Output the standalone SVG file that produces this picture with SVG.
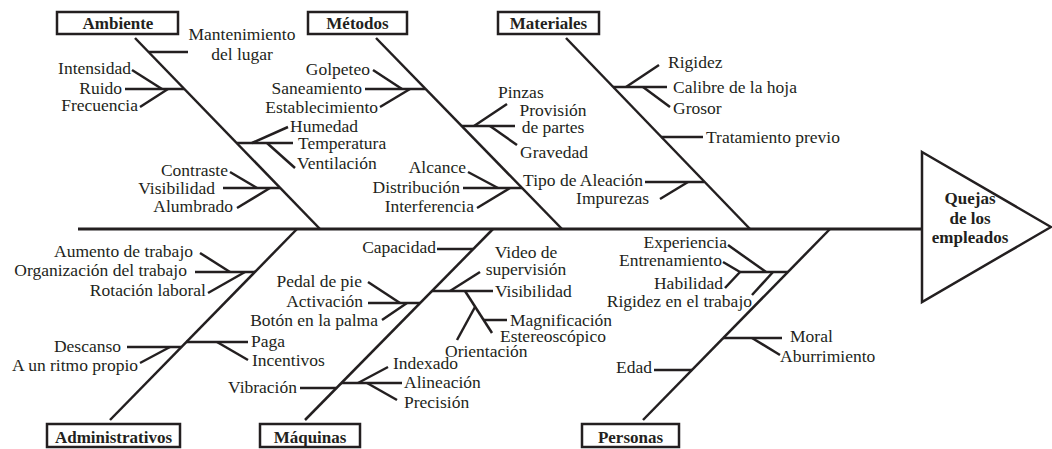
<svg xmlns="http://www.w3.org/2000/svg" width="1052" height="449" viewBox="0 0 1052 449">
<style>
.l{stroke:#231f20;stroke-width:2.5;fill:none;stroke-linecap:butt}
.sp{stroke:#231f20;stroke-width:3;fill:none}
.bx{fill:#fff;stroke:#231f20;stroke-width:2.5}
text{font-family:'Liberation Serif','DejaVu Serif',serif;font-size:17.5px;fill:#231f20}
.b{font-weight:bold;font-size:17px;text-anchor:middle}
.e{text-anchor:end}
.m{text-anchor:middle}
</style>
<rect width="1052" height="449" fill="#fff"/>
<g id="connectors">
<line class="sp" x1="78" y1="229" x2="922" y2="229"/>
<line class="l" x1="135" y1="38" x2="320" y2="229"/>
<line class="l" x1="149" y1="52" x2="188" y2="52"/>
<line class="l" x1="125" y1="89" x2="184" y2="89"/>
<line class="l" x1="132" y1="70" x2="162" y2="89"/>
<line class="l" x1="140" y1="107" x2="168" y2="89"/>
<line class="l" x1="237" y1="143" x2="293" y2="143"/>
<line class="l" x1="252" y1="143" x2="288" y2="127"/>
<line class="l" x1="267" y1="143" x2="295" y2="168"/>
<line class="l" x1="223" y1="188" x2="280" y2="188"/>
<line class="l" x1="230" y1="172" x2="257" y2="188"/>
<line class="l" x1="237" y1="208" x2="270" y2="188"/>
<line class="l" x1="376" y1="38" x2="562" y2="229"/>
<line class="l" x1="365" y1="89" x2="425" y2="89"/>
<line class="l" x1="373" y1="70" x2="402" y2="89"/>
<line class="l" x1="380" y1="107" x2="410" y2="89"/>
<line class="l" x1="462" y1="126" x2="515" y2="126"/>
<line class="l" x1="474" y1="126" x2="507" y2="104"/>
<line class="l" x1="490" y1="126" x2="517" y2="145"/>
<line class="l" x1="463" y1="188" x2="522" y2="188"/>
<line class="l" x1="468" y1="172" x2="498" y2="188"/>
<line class="l" x1="477" y1="208" x2="510" y2="188"/>
<line class="l" x1="566" y1="38" x2="750" y2="229"/>
<line class="l" x1="613" y1="87" x2="667" y2="87"/>
<line class="l" x1="626" y1="87" x2="659" y2="65"/>
<line class="l" x1="643" y1="87" x2="670" y2="107"/>
<line class="l" x1="661" y1="137" x2="703" y2="137"/>
<line class="l" x1="645" y1="182" x2="704" y2="182"/>
<line class="l" x1="660" y1="199" x2="688" y2="182"/>
<line class="l" x1="297" y1="229" x2="110" y2="420"/>
<line class="l" x1="195" y1="272" x2="255" y2="272"/>
<line class="l" x1="200" y1="253" x2="230" y2="272"/>
<line class="l" x1="208" y1="293" x2="245" y2="272"/>
<line class="l" x1="186" y1="342" x2="248" y2="342"/>
<line class="l" x1="217" y1="342" x2="248" y2="360"/>
<line class="l" x1="127" y1="347" x2="181" y2="347"/>
<line class="l" x1="140" y1="363" x2="170" y2="347"/>
<line class="l" x1="493" y1="229" x2="305" y2="420"/>
<line class="l" x1="437" y1="249" x2="473" y2="249"/>
<line class="l" x1="368" y1="303" x2="420" y2="303"/>
<line class="l" x1="368" y1="282" x2="400" y2="303"/>
<line class="l" x1="382" y1="320" x2="407" y2="303"/>
<line class="l" x1="432" y1="291" x2="493" y2="291"/>
<line class="l" x1="450" y1="291" x2="480" y2="272"/>
<line class="l" x1="465" y1="291" x2="492" y2="333"/>
<line class="l" x1="484" y1="320" x2="507" y2="320"/>
<line class="l" x1="457" y1="340" x2="475" y2="307"/>
<line class="l" x1="300" y1="388" x2="336" y2="388"/>
<line class="l" x1="341" y1="383" x2="402" y2="383"/>
<line class="l" x1="358" y1="383" x2="388" y2="367"/>
<line class="l" x1="367" y1="383" x2="397" y2="400"/>
<line class="l" x1="830" y1="229" x2="643" y2="420"/>
<line class="l" x1="740" y1="272" x2="788" y2="272"/>
<line class="l" x1="728" y1="245" x2="766" y2="272"/>
<line class="l" x1="723" y1="262" x2="740" y2="272"/>
<line class="l" x1="725" y1="288" x2="740" y2="272"/>
<line class="l" x1="752" y1="295" x2="773" y2="272"/>
<line class="l" x1="723" y1="338" x2="782" y2="338"/>
<line class="l" x1="752" y1="338" x2="780" y2="355"/>
<line class="l" x1="654" y1="370" x2="692" y2="370"/>
</g>
<g id="effect">
<polygon class="bx" points="922,152 1051,227 922,302"/>
<text class="b" x="970" y="204">Quejas</text>
<text class="b" x="970" y="224">de los</text>
<text class="b" x="970" y="243">empleados</text>
</g>
<g id="ambiente">
<rect class="bx" x="57" y="12" width="121" height="22"/>
<text class="b" x="118" y="29">Ambiente</text>
<text class="m" x="242" y="40">Mantenimiento</text>
<text class="m" x="242" y="60">del lugar</text>
<text class="e" x="131" y="74">Intensidad</text>
<text class="e" x="122" y="94">Ruido</text>
<text class="e" x="138" y="111">Frecuencia</text>
<text x="290" y="132">Humedad</text>
<text x="298" y="149">Temperatura</text>
<text x="297" y="169">Ventilación</text>
<text class="e" x="228" y="176">Contraste</text>
<text class="e" x="215" y="194">Visibilidad</text>
<text class="e" x="233" y="212">Alumbrado</text>
</g>
<g id="metodos">
<rect class="bx" x="308" y="12" width="99" height="22"/>
<text class="b" x="357.5" y="29">Métodos</text>
<text class="e" x="370" y="75">Golpeteo</text>
<text class="e" x="362" y="94">Saneamiento</text>
<text class="e" x="378" y="113">Establecimiento</text>
<text x="498" y="98">Pinzas</text>
<text class="m" x="553" y="116">Provisión</text>
<text class="m" x="553" y="133">de partes</text>
<text x="520" y="158">Gravedad</text>
<text class="e" x="466" y="173">Alcance</text>
<text class="e" x="460" y="193">Distribución</text>
<text class="e" x="474" y="212">Interferencia</text>
</g>
<g id="materiales">
<rect class="bx" x="498" y="12" width="101" height="22"/>
<text class="b" x="548.5" y="29">Materiales</text>
<text x="668" y="68">Rigidez</text>
<text x="673" y="93">Calibre de la hoja</text>
<text x="673" y="114">Grosor</text>
<text x="706" y="143">Tratamiento previo</text>
<text class="e" x="643" y="186">Tipo de Aleación</text>
<text class="e" x="649" y="204">Impurezas</text>
</g>
<g id="administrativos">
<rect class="bx" x="47" y="424" width="133" height="23"/>
<text class="b" x="113.5" y="443">Administrativos</text>
<text class="e" x="193" y="257">Aumento de trabajo</text>
<text class="e" x="187" y="276">Organización del trabajo</text>
<text class="e" x="206" y="296">Rotación laboral</text>
<text x="251" y="347">Paga</text>
<text x="252" y="366">Incentivos</text>
<text class="e" x="121" y="352">Descanso</text>
<text class="e" x="138" y="371">A un ritmo propio</text>
</g>
<g id="maquinas">
<rect class="bx" x="260" y="424" width="100" height="23"/>
<text class="b" x="310" y="443">Máquinas</text>
<text class="e" x="436" y="253">Capacidad</text>
<text class="e" x="362" y="287">Pedal de pie</text>
<text class="e" x="363" y="307">Activación</text>
<text class="e" x="378" y="326">Botón en la palma</text>
<text class="m" x="526" y="258">Video de</text>
<text class="m" x="526" y="275">supervisión</text>
<text x="495" y="297">Visibilidad</text>
<text x="510" y="326">Magnificación</text>
<text x="500" y="342">Estereoscópico</text>
<text x="445" y="357">Orientación</text>
<text class="e" x="297" y="393">Vibración</text>
<text x="393" y="369">Indexado</text>
<text x="404" y="388">Alineación</text>
<text x="404" y="408">Precisión</text>
</g>
<g id="personas">
<rect class="bx" x="582" y="424" width="97" height="23"/>
<text class="b" x="630.5" y="443">Personas</text>
<text class="e" x="727" y="248">Experiencia</text>
<text class="e" x="722" y="266">Entrenamiento</text>
<text class="e" x="723" y="289">Habilidad</text>
<text class="e" x="752" y="307">Rigidez en el trabajo</text>
<text x="790" y="342">Moral</text>
<text x="780" y="362">Aburrimiento</text>
<text class="e" x="652" y="373">Edad</text>
</g>
</svg>
